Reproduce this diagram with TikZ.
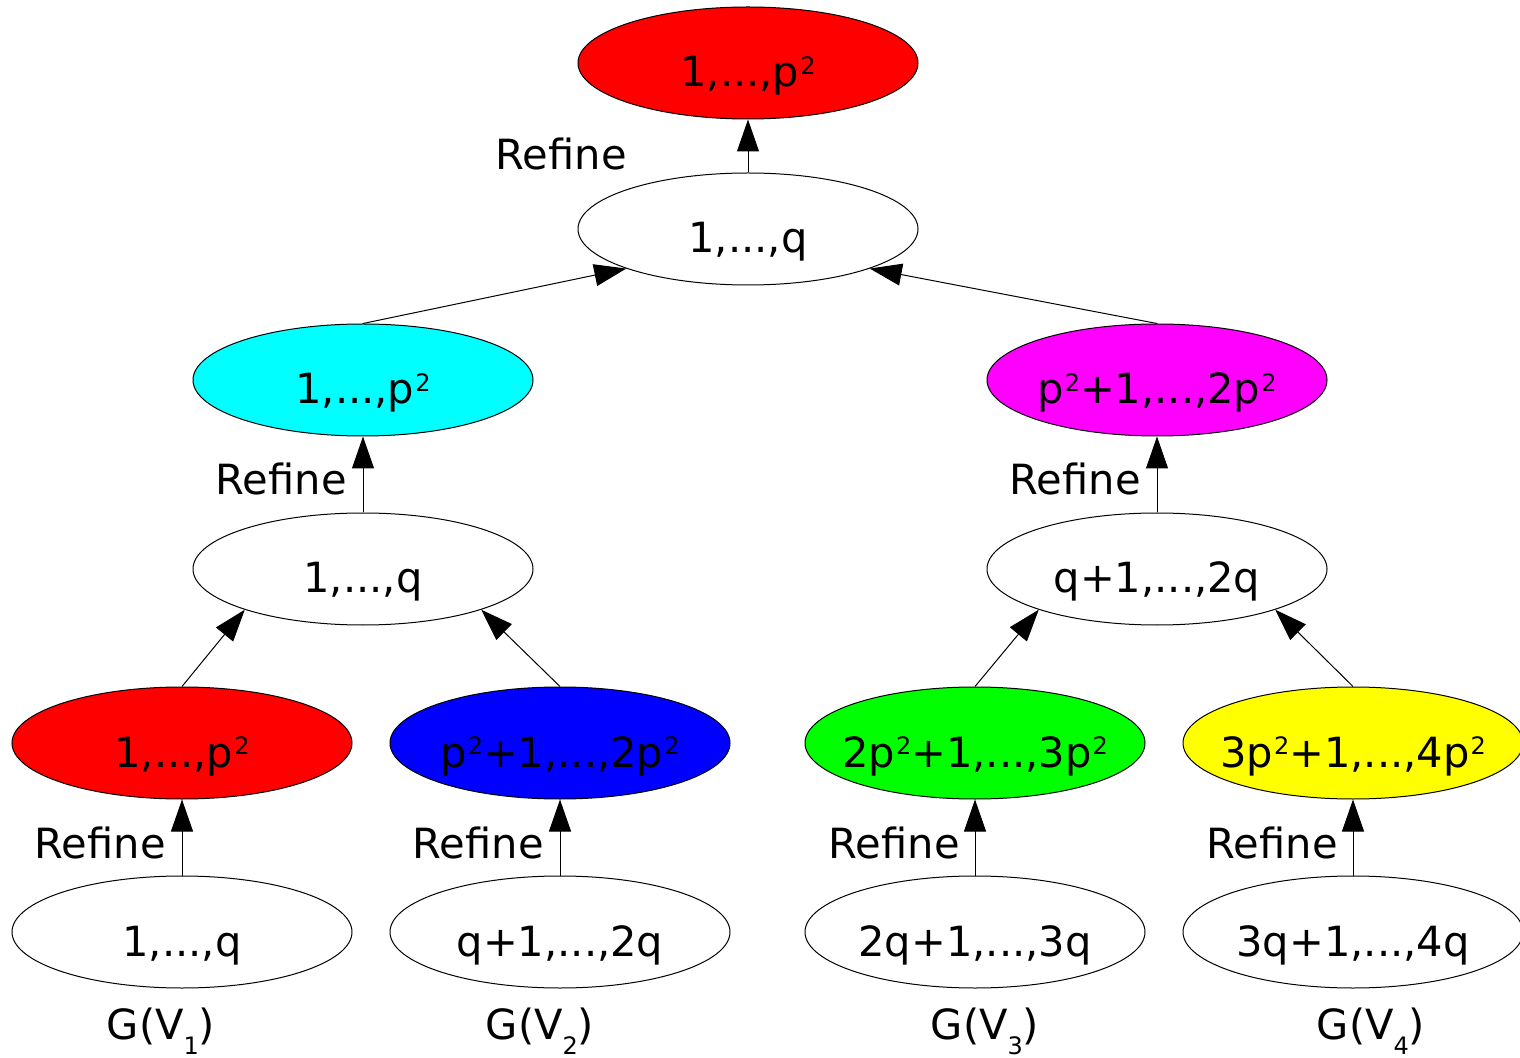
\documentclass[tikz,border=0pt]{standalone}
\usepackage{fontspec}
\setmainfont{DejaVu Sans}
\usepackage{tikz}
\usetikzlibrary{arrows.meta}
\usetikzlibrary{shapes.geometric}

\definecolor{gvred}{RGB}{255,0,0}
\definecolor{gvcyan}{RGB}{0,255,255}
\definecolor{gvmagenta}{RGB}{255,0,255}
\definecolor{gvblue}{RGB}{0,0,255}
\definecolor{gvgreen}{RGB}{0,255,0}
\definecolor{gvyellow}{RGB}{255,255,0}

% small raised and lowered digits
\newcommand{\sqd}{\kern0.5pt\raisebox{6.4pt}{\fontsize{12}{12}\selectfont 2}}
\newcommand{\gsub}[1]{\raisebox{-7.6pt}{\fontsize{12}{12}\selectfont #1}}

\begin{document}
\begin{tikzpicture}[x=0.5pt,y=-0.5pt,font=\fontsize{20.8}{24}\selectfont,
        part/.style={ellipse,draw,line width=0.5pt,minimum width=170pt,
            minimum height=56pt,inner sep=0pt,inner xsep=-12pt,
            text height=24pt,text depth=0pt},
        refarrow/.style={-{Triangle[length=16pt,width=11pt]},line width=0.5pt},
        refine/.style={anchor=base east,inner sep=0pt},
        graph/.style={anchor=base,inner sep=0pt}]
        \useasboundingbox (0,0) rectangle (1520,1058);

        % top of the tree
        \node[part,fill=gvred]      (rootp) at (748,63)   {1,...,p\sqd};
        \node[part]                 (rootq) at (748,229)  {1,...,q};

        % middle level
        \node[part,fill=gvcyan]     (lp)    at (363,380)  {1,...,p\sqd};
        \node[part,fill=gvmagenta]  (rp)    at (1157,380) {p\sqd+1,...,2p\sqd};
        \node[part]                 (lq)    at (363,569)  {1,...,q};
        \node[part]                 (rq)    at (1157,569) {q+1,...,2q};

        % leaves
        \node[part,fill=gvred]      (p1)    at (182,743)  {1,...,p\sqd};
        \node[part,fill=gvblue]     (p2)    at (560,743)  {p\sqd+1,...,2p\sqd};
        \node[part,fill=gvgreen]    (p3)    at (975,743)  {2p\sqd+1,...,3p\sqd};
        \node[part,fill=gvyellow]   (p4)    at (1353,743) {3p\sqd+1,...,4p\sqd};
        \node[part]                 (q1)    at (182,932)  {1,...,q};
        \node[part]                 (q2)    at (560,932)  {q+1,...,2q};
        \node[part]                 (q3)    at (975,932)  {2q+1,...,3q};
        \node[part]                 (q4)    at (1353,932) {3q+1,...,4q};

        \node[graph] (g1) at (161,1039)  {G(V\gsub{1})};
        \node[graph] (g2) at (540,1039)  {G(V\gsub{2})};
        \node[graph] (g3) at (985,1039)  {G(V\gsub{3})};
        \node[graph] (g4) at (1371,1039) {G(V\gsub{4})};

        % refine steps
        \draw[refarrow] (q1.north) -- (p1.south);
        \draw[refarrow] (q2.north) -- (p2.south);
        \draw[refarrow] (q3.north) -- (p3.south);
        \draw[refarrow] (q4.north) -- (p4.south);
        \draw[refarrow] (lq.north) -- (lp.south);
        \draw[refarrow] (rq.north) -- (rp.south);
        \draw[refarrow] (rootq.north) -- (rootp.south);

        \node[refine] (rf1) at (166,858)  {Refine};
        \node[refine] (rf2) at (544,858)  {Refine};
        \node[refine] (rf3) at (960,858)  {Refine};
        \node[refine] (rf4) at (1338,858) {Refine};
        \node[refine] (rfl) at (347,495)  {Refine};
        \node[refine] (rfr) at (1141,495) {Refine};
        \node[refine] (rft) at (627,170)  {Refine};

        % merges
        \draw[refarrow] (p1.north) -- (lq.199);
        \draw[refarrow] (p2.north) -- (lq.341);
        \draw[refarrow] (p3.north) -- (rq.199);
        \draw[refarrow] (p4.north) -- (rq.341);
        \draw[refarrow] (lp.north) -- (rootq.198);
        \draw[refarrow] (rp.north) -- (rootq.342);
    \end{tikzpicture}
\end{document}
